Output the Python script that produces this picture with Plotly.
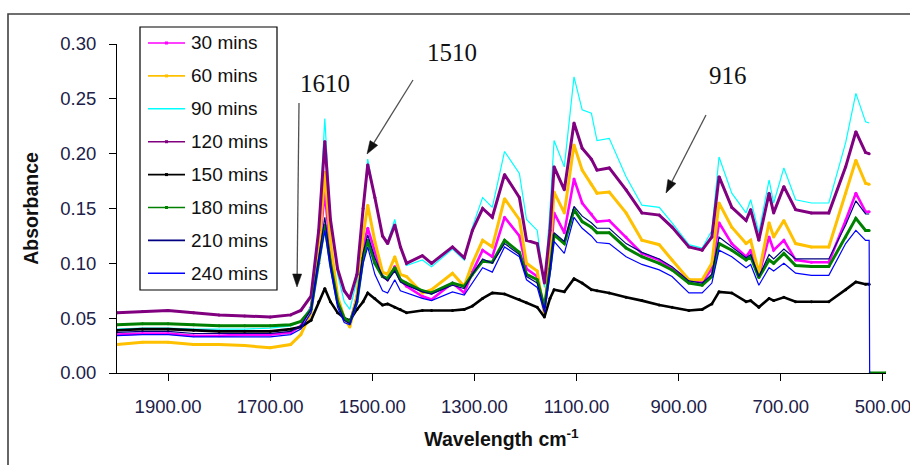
import math
import plotly.graph_objects as go

# Wavenumber grid (cm-1) shared by all spectra
wavenumber = [2000, 1950, 1900, 1850, 1800, 1750, 1700, 1660, 1640, 1620,
              1605, 1593, 1582, 1568, 1555, 1544, 1530, 1518, 1509, 1495,
              1480, 1470, 1456, 1445, 1433, 1402, 1384, 1343, 1320, 1304,
              1284, 1265, 1241, 1212, 1198, 1177, 1163, 1152, 1144, 1124,
              1105, 1089, 1071, 1060, 1036, 1003, 972, 938, 913, 880,
              854, 835, 821, 796, 768, 759, 743, 723, 714, 694,
              671, 640, 606, 573, 553, 534, 527, 526, 525, 494]

labels = ["30 mins", "60 mins", "90 mins", "120 mins",
          "150 mins", "180 mins", "210 mins", "240 mins"]

abs_30 = [0.035, 0.036, 0.036, 0.034, 0.034, 0.035, 0.035, 0.037, 0.043, 0.060,
          0.110, 0.165, 0.110, 0.068, 0.050, 0.045, 0.070, 0.115, 0.132, 0.110,
          0.088, 0.085, 0.097, 0.085, 0.079, 0.070, 0.067, 0.082, 0.073, 0.092,
          0.112, 0.106, 0.142, 0.125, 0.095, 0.088, 0.057, 0.100, 0.146, 0.128,
          0.177, 0.155, 0.145, 0.138, 0.139, 0.124, 0.109, 0.103, 0.095, 0.085,
          0.083, 0.095, 0.137, 0.118, 0.106, 0.112, 0.089, 0.124, 0.112, 0.121,
          0.103, 0.101, 0.101, 0.139, 0.164, 0.147, 0.147, None, None, None]

abs_60 = [0.026, 0.028, 0.028, 0.026, 0.026, 0.025, 0.023, 0.026, 0.035, 0.055,
          0.110, 0.183, 0.120, 0.070, 0.050, 0.042, 0.070, 0.125, 0.153, 0.120,
          0.092, 0.090, 0.106, 0.090, 0.088, 0.073, 0.076, 0.091, 0.079, 0.100,
          0.121, 0.115, 0.159, 0.140, 0.100, 0.093, 0.053, 0.110, 0.165, 0.146,
          0.208, 0.185, 0.172, 0.164, 0.165, 0.146, 0.121, 0.117, 0.103, 0.085,
          0.085, 0.100, 0.155, 0.133, 0.118, 0.121, 0.091, 0.137, 0.124, 0.139,
          0.118, 0.115, 0.115, 0.164, 0.194, 0.173, 0.172, None, None, None]

abs_90 = [0.040, 0.041, 0.041, 0.040, 0.040, 0.040, 0.041, 0.043, 0.047, 0.060,
          0.130, 0.232, 0.140, 0.090, 0.065, 0.058, 0.085, 0.150, 0.195, 0.160,
          0.125, 0.120, 0.140, 0.115, 0.098, 0.103, 0.097, 0.113, 0.103, 0.133,
          0.160, 0.151, 0.202, 0.182, 0.140, 0.130, 0.078, 0.150, 0.212, 0.188,
          0.270, 0.240, 0.237, 0.212, 0.214, 0.179, 0.153, 0.151, 0.137, 0.117,
          0.114, 0.130, 0.197, 0.164, 0.146, 0.158, 0.128, 0.176, 0.155, 0.187,
          0.158, 0.155, 0.155, 0.210, 0.255, 0.229, 0.228, None, None, None]

abs_120 = [0.055, 0.056, 0.057, 0.055, 0.053, 0.052, 0.051, 0.053, 0.057, 0.070,
           0.130, 0.211, 0.140, 0.095, 0.075, 0.068, 0.090, 0.150, 0.190, 0.160,
           0.125, 0.118, 0.135, 0.115, 0.100, 0.107, 0.100, 0.115, 0.105, 0.130,
           0.150, 0.142, 0.181, 0.160, 0.121, 0.118, 0.082, 0.130, 0.188, 0.167,
           0.228, 0.205, 0.195, 0.185, 0.187, 0.167, 0.146, 0.144, 0.133, 0.115,
           0.112, 0.124, 0.179, 0.151, 0.139, 0.149, 0.121, 0.164, 0.146, 0.170,
           0.149, 0.146, 0.146, 0.188, 0.220, 0.201, 0.200, None, None, None]

abs_150 = [0.039, 0.040, 0.040, 0.039, 0.038, 0.038, 0.038, 0.040, 0.042, 0.048,
           0.065, 0.077, 0.065, 0.055, 0.050, 0.048, 0.058, 0.065, 0.073, 0.068,
           0.062, 0.063, 0.060, 0.058, 0.055, 0.057, 0.057, 0.057, 0.058, 0.061,
           0.068, 0.073, 0.072, 0.067, 0.064, 0.060, 0.051, 0.068, 0.076, 0.074,
           0.086, 0.082, 0.076, 0.075, 0.073, 0.069, 0.066, 0.062, 0.060, 0.057,
           0.058, 0.063, 0.074, 0.073, 0.065, 0.066, 0.060, 0.068, 0.066, 0.069,
           0.065, 0.065, 0.065, 0.076, 0.083, 0.081, 0.081, None, None, None]

abs_180 = [0.044, 0.045, 0.045, 0.044, 0.043, 0.043, 0.043, 0.044, 0.047, 0.058,
           0.100, 0.135, 0.100, 0.065, 0.050, 0.046, 0.065, 0.105, 0.121, 0.100,
           0.088, 0.086, 0.096, 0.085, 0.082, 0.075, 0.073, 0.082, 0.079, 0.090,
           0.102, 0.101, 0.121, 0.110, 0.090, 0.085, 0.060, 0.095, 0.126, 0.118,
           0.149, 0.138, 0.133, 0.128, 0.128, 0.114, 0.106, 0.100, 0.094, 0.082,
           0.080, 0.088, 0.118, 0.112, 0.103, 0.106, 0.087, 0.103, 0.100, 0.109,
           0.098, 0.097, 0.097, 0.124, 0.141, 0.130, 0.130, None, 0.0, 0.0]

abs_210 = [0.037, 0.038, 0.038, 0.036, 0.036, 0.036, 0.036, 0.038, 0.043, 0.058,
           0.105, 0.142, 0.100, 0.063, 0.048, 0.045, 0.068, 0.110, 0.126, 0.105,
           0.088, 0.084, 0.093, 0.083, 0.080, 0.074, 0.072, 0.080, 0.077, 0.090,
           0.104, 0.100, 0.118, 0.108, 0.088, 0.082, 0.058, 0.095, 0.128, 0.120,
           0.152, 0.143, 0.137, 0.132, 0.132, 0.118, 0.110, 0.104, 0.097, 0.084,
           0.082, 0.090, 0.124, 0.115, 0.105, 0.108, 0.088, 0.108, 0.104, 0.113,
           0.104, 0.104, 0.104, 0.135, 0.157, 0.145, 0.145, None, None, None]

abs_240 = [0.034, 0.035, 0.035, 0.033, 0.033, 0.033, 0.033, 0.035, 0.040, 0.055,
           0.100, 0.130, 0.095, 0.060, 0.046, 0.044, 0.063, 0.100, 0.115, 0.090,
           0.075, 0.073, 0.085, 0.075, 0.073, 0.068, 0.066, 0.074, 0.071, 0.082,
           0.096, 0.092, 0.115, 0.106, 0.085, 0.078, 0.055, 0.090, 0.120, 0.109,
           0.142, 0.132, 0.125, 0.119, 0.118, 0.106, 0.099, 0.094, 0.088, 0.073,
           0.073, 0.082, 0.112, 0.106, 0.096, 0.099, 0.080, 0.096, 0.093, 0.100,
           0.091, 0.089, 0.089, 0.118, 0.130, 0.121, 0.121, 0.0, None, None]

series = [abs_30, abs_60, abs_90, abs_120, abs_150, abs_180, abs_210, abs_240]
colors = ["#FF00FF", "#FFC000", "#00FFFF", "#800080",
          "#000000", "#008000", "#000080", "#0000FF"]
widths = [2.6, 3.0, 1.2, 3.0, 2.6, 3.0, 1.2, 1.2]
markers = [True, True, False, True, True, True, False, False]

# Figure geometry (pixels)
W, H = 910, 465
ML, MR, MT, MB = 117, 24, 44, 92
PW, PH = W - ML - MR, H - MT - MB


def px(x):
    return (x - ML) / PW


def py(y):
    return (H - MB - y) / PH


fig = go.Figure()
for name, y, c, w, m in zip(labels, series, colors, widths, markers):
    fig.add_trace(go.Scatter(
        x=wavenumber, y=y, name=name,
        mode="lines+markers" if m else "lines",
        line=dict(color=c, width=w),
        marker=dict(size=3, color=c),
        connectgaps=False, showlegend=False,
    ))

tick_font = dict(family="Arial, Liberation Sans", size=18.5, color="#202048")
title_font = dict(family="Arial, Liberation Sans", size=19.5, color="#111111")
serif = dict(family="Liberation Serif, Times New Roman", size=25, color="#111111")

fig.update_layout(
    width=W, height=H,
    margin=dict(l=ML, r=MR, t=MT, b=MB, autoexpand=False),
    paper_bgcolor="white", plot_bgcolor="white",
    showlegend=False,
    xaxis=dict(
        range=[2000, 494], tickvals=[1900, 1700, 1500, 1300, 1100, 900, 700, 500],
        tickformat=".2f", ticks="outside", ticklen=7, tickcolor="#000000",
        showline=True, linecolor="#000000", linewidth=1, showgrid=False,
        zeroline=False, tickfont=tick_font, ticklabelstandoff=10,
        ticklabeloverflow="allow", automargin=False,
        title=dict(text="<b>Wavelength cm<sup>-1</sup></b>", standoff=16,
                   font=title_font),
    ),
    yaxis=dict(
        range=[0, 0.30], dtick=0.05, tickformat=".2f",
        ticks="outside", ticklen=7, tickcolor="#000000",
        showline=True, linecolor="#000000", linewidth=1, showgrid=False,
        zeroline=False, tickfont=tick_font, ticklabelstandoff=9,
        automargin=False,
        title=dict(text="<b>Absorbance</b>", standoff=16, font=title_font),
    ),
)

# Outer frame around the whole chart
fig.add_shape(type="rect", xref="paper", yref="paper",
              x0=px(8), x1=px(915), y0=py(470), y1=py(14),
              line=dict(color="#404040", width=1.6), fillcolor="rgba(0,0,0,0)",
              layer="below")

# Legend box with line samples and labels
fig.add_shape(type="rect", xref="paper", yref="paper",
              x0=px(140), x1=px(277), y0=py(290), y1=py(27),
              line=dict(color="#000000", width=1.2), fillcolor="white")
for i, (name, c, m) in enumerate(zip(labels, colors, markers)):
    yc = 43 + i * 32.9
    fig.add_shape(type="line", xref="paper", yref="paper",
                  x0=px(148), x1=px(185), y0=py(yc), y1=py(yc),
                  line=dict(color=c, width=1.6))
    if m:
        fig.add_shape(type="rect", xref="paper", yref="paper",
                      x0=px(165), x1=px(168), y0=py(yc + 1.5), y1=py(yc - 1.5),
                      line=dict(width=0), fillcolor=c)
    fig.add_annotation(xref="paper", yref="paper", x=px(189), y=py(yc),
                       xanchor="left", yanchor="middle", text=name,
                       showarrow=False,
                       font=dict(family="Arial, Liberation Sans", size=19,
                                 color="#111111"))


# Arrows pointing at the bands: grey shaft with a black head
def add_arrow(tail, tip, head_len=13, head_w=9):
    (x0, y0), (x1, y1) = tail, tip
    d = math.hypot(x1 - x0, y1 - y0)
    ux, uy = (x1 - x0) / d, (y1 - y0) / d
    bx, by = x1 - ux * head_len, y1 - uy * head_len
    nx, ny = -uy * head_w / 2, ux * head_w / 2
    fig.add_shape(type="line", xref="paper", yref="paper",
                  x0=px(x0), y0=py(y0), x1=px(bx), y1=py(by),
                  line=dict(color="#505050", width=1.3))
    path = "M {:.5f} {:.5f} L {:.5f} {:.5f} L {:.5f} {:.5f} Z".format(
        px(x1), py(y1), px(bx + nx), py(by + ny), px(bx - nx), py(by - ny))
    fig.add_shape(type="path", xref="paper", yref="paper", path=path,
                  line=dict(color="#111111", width=0.5), fillcolor="#111111")


add_arrow((299, 103), (297, 287))
add_arrow((413, 80), (367, 154))
add_arrow((706, 115), (666, 193))

for label, cx, cy in [("1610", 325, 83), ("1510", 452, 52), ("916", 728, 75)]:
    fig.add_annotation(xref="paper", yref="paper", x=px(cx), y=py(cy),
                       xanchor="center", yanchor="middle",
                       text=label, showarrow=False, font=serif)

fig.write_html("out.html")
